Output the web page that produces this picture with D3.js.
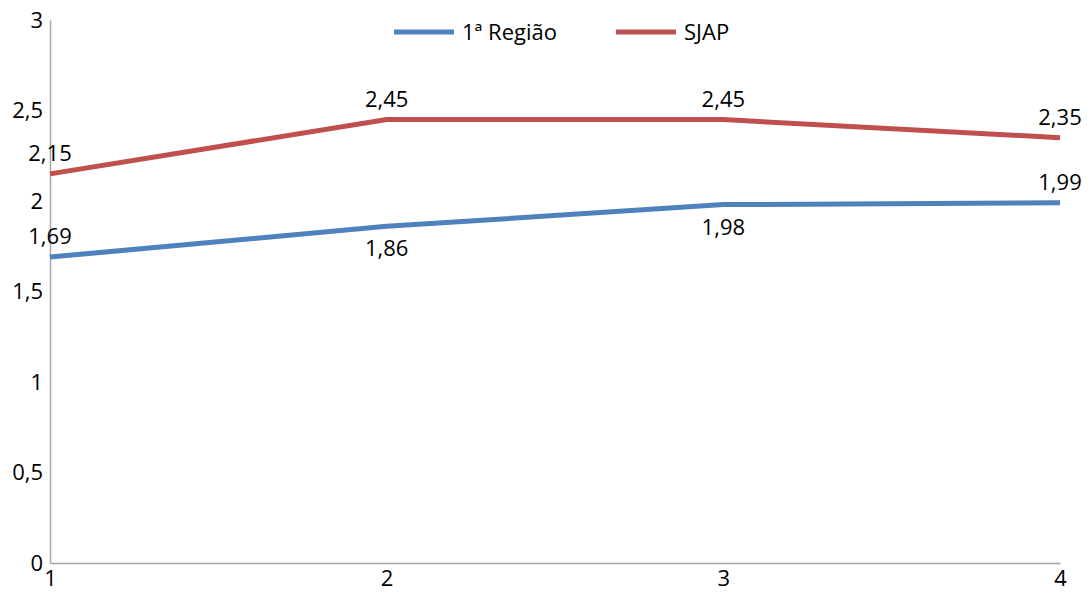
<!DOCTYPE html>
<html lang="pt">
<head>
	<meta charset="UTF-8">
	<title>1ª Região x SJAP</title>
	<script src="https://d3js.org/d3.v7.min.js"></script>
	<style>
		* { margin: 0px; padding: 0px; }
		body { background: #fff; }
		text { font-family: "Open Sans", "Liberation Sans", sans-serif; fill: #000; }
	</style>
</head>
<body>
	<svg width="1091" height="593"></svg>
	<script>
		// data
		var categories = [1, 2, 3, 4];
		var regiao = [1.69, 1.86, 1.98, 1.99];
		var sjap = [2.15, 2.45, 2.45, 2.35];
		var yTicks = [0, 0.5, 1, 1.5, 2, 2.5, 3];
		// where each blue label goes (above / below the point)
		var regiaoLabelPos = ["above", "below", "below", "above"];

		var series = [
			{ name: "1ª Região", values: regiao, color: "#4F81BD", pos: regiaoLabelPos },
			{ name: "SJAP", values: sjap, color: "#C0504D", pos: ["above", "above", "above", "above"] }
		];

		var svg = d3.select("svg");
		var fmt = function (d) { return String(d).replace(".", ","); };

		var x = d3.scaleLinear().domain([1, 4]).range([50, 1060]);
		var y = d3.scaleLinear().domain([0, 3]).range([563, 20]);

		// y axis
		var yAxis = svg.append("g")
			.attr("transform", "translate(50,0)")
			.call(d3.axisLeft(y).tickValues(yTicks).tickSize(0).tickPadding(7).tickFormat(fmt));
		yAxis.select(".domain").attr("stroke", "#A6A6A6").attr("stroke-width", 1.5);
		yAxis.selectAll("text").style("font-size", "22px").attr("fill", "#000");

		// x axis
		var xAxis = svg.append("g")
			.attr("transform", "translate(0,563)")
			.call(d3.axisBottom(x).tickValues(categories).tickSize(0).tickPadding(7).tickFormat(d3.format("d")));
		xAxis.select(".domain").attr("stroke", "#A6A6A6").attr("stroke-width", 1.5);
		xAxis.selectAll("text").style("font-size", "22px").attr("fill", "#000");

		var line = d3.line()
			.x(function (d, i) { return x(categories[i]); })
			.y(function (d) { return y(d); });

		series.forEach(function (s) {
			svg.append("path")
				.datum(s.values)
				.attr("fill", "none")
				.attr("stroke", s.color)
				.attr("stroke-width", 5)
				.attr("d", line);

			svg.append("g").selectAll("text")
				.data(s.values)
				.enter()
				.append("text")
				.attr("x", function (d, i) { return x(categories[i]); })
				.attr("y", function (d, i) { return s.pos[i] == "above" ? y(d) - 13 : y(d) + 30; })
				.attr("text-anchor", "middle")
				.style("font-size", "22px")
				.text(fmt);
		});

		// legend
		var legend = svg.append("g");
		var legX = [394, 616];
		series.forEach(function (s, i) {
			legend.append("line")
				.attr("x1", legX[i]).attr("x2", legX[i] + 60)
				.attr("y1", 32).attr("y2", 32)
				.attr("stroke", s.color)
				.attr("stroke-width", 5);
			legend.append("text")
				.attr("x", legX[i] + 68)
				.attr("y", 40)
				.style("font-size", "22px")
				.text(s.name);
		});
	</script>
</body>
</html>
